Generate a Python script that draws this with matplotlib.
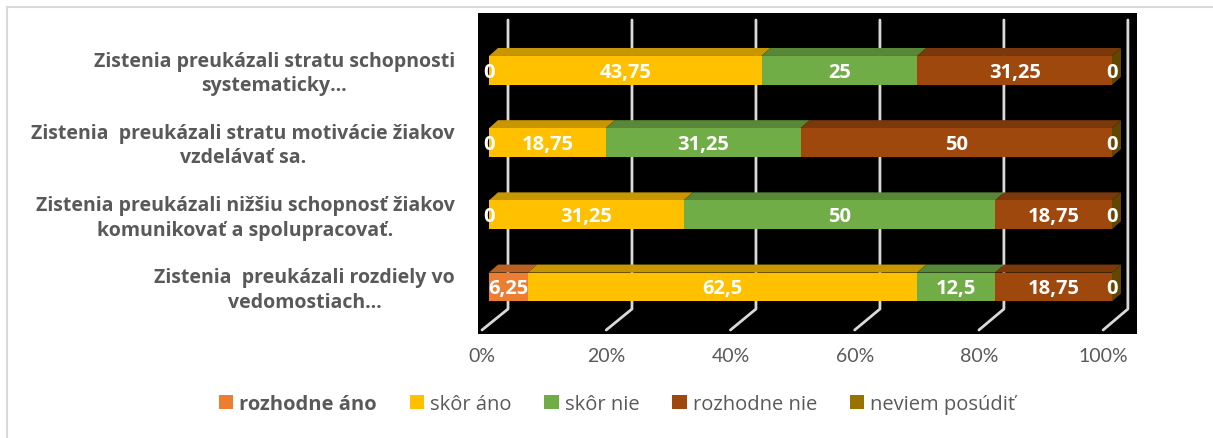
import matplotlib
matplotlib.use("Agg")
import matplotlib.pyplot as plt
import numpy as np
from matplotlib.patches import Polygon, Patch
from matplotlib.lines import Line2D
import matplotlib.colors as mcolors

# ---- data ----
categories = [
    "Zistenia preukázali stratu schopnosti\nsystematicky…",
    "Zistenia  preukázali stratu motivácie žiakov\nvzdelávať sa.",
    "Zistenia preukázali nižšiu schopnosť žiakov\nkomunikovať a spolupracovať.",
    "Zistenia  preukázali rozdiely vo\nvedomostiach…",
]
series_names = ["rozhodne áno", "skôr áno", "skôr nie", "rozhodne nie", "neviem posúdiť"]
rozhodne_ano = [0, 0, 0, 6.25]
skor_ano = [43.75, 18.75, 31.25, 62.5]
skor_nie = [25, 31.25, 50, 12.5]
rozhodne_nie = [31.25, 50, 18.75, 18.75]
neviem = [0, 0, 0, 0]
series_values = [rozhodne_ano, skor_ano, skor_nie, rozhodne_nie, neviem]
tick_values = [0, 20, 40, 60, 80, 100]
tick_labels = ["0%", "20%", "40%", "60%", "80%", "100%"]

colors = ["#ED7D31", "#FFC000", "#70AD47", "#9E480E", "#997300"]

plt.rcParams["font.family"] = ["Open Sans", "DejaVu Sans"]
TICKFONT = ["Lato", "DejaVu Sans"]

W, H = 1213, 439
fig = plt.figure(figsize=(W / 100, H / 100), dpi=100)
fig.patch.set_facecolor("white")

# plot area (black)
px_l, px_r, px_t, px_b = 478, 1137, 14, 335
ax = fig.add_axes([px_l / W, 1 - px_b / H, (px_r - px_l) / W, (px_b - px_t) / H])
ax.set_facecolor("black")
for s in ax.spines.values():
    s.set_visible(False)
ax.set_xticks([])
ax.set_yticks([])

x0px, pxper = 489, 6.23
ax.set_xlim((px_l - x0px) / pxper, (px_r - x0px) / pxper)
ybase, ystep = 288, 72.2
ax.set_ylim((ybase - px_b) / ystep, (ybase - px_t) / ystep)

n = len(categories)
pos = np.arange(n)[::-1].astype(float)  # top category at top
bar_h = 0.40
dx, dy = 9 / pxper, 8 / ystep

# gridlines (3D walls)
back_off = (508 - x0px) / pxper
front_off = (482 - x0px) / pxper
y_top = (ybase - 21) / ystep
y_back = (ybase - 310) / ystep
y_front = (ybase - 331) / ystep
for v in tick_values:
    ax.plot([v * 0.995 + back_off, v * 0.995 + back_off, v * 0.997 + front_off],
            [y_top, y_back, y_front], color="#d9d9d9", lw=2.0,
            solid_capstyle="round", zorder=1)

def darker(c, f):
    r, g, b = mcolors.to_rgb(c)
    return (r * f, g * f, b * f)

left = np.zeros(n)
for si, vals in enumerate(series_values):
    vals = np.array(vals, dtype=float)
    ax.barh(pos, vals, left=left, height=bar_h, color=colors[si], zorder=3, linewidth=0)
    for i in range(n):
        l, w = left[i], vals[i]
        yt = pos[i] + bar_h / 2
        if w > 0:
            ax.add_patch(Polygon([(l, yt), (l + w, yt), (l + w + dx, yt + dy), (l + dx, yt + dy)],
                                 closed=True, facecolor=darker(colors[si], 0.78),
                                 edgecolor="none", zorder=2))
        ax.text(l + w / 2, pos[i] - 0.02, f"{w:g}".replace(".", ","), ha="center", va="center",
                color="white", fontsize=14.5, fontweight="bold", zorder=5)
    left = left + vals

# right side face of the last segment
for i in range(n):
    r = left[i]
    yb, yt = pos[i] - bar_h / 2, pos[i] + bar_h / 2
    ax.add_patch(Polygon([(r, yb), (r, yt), (r + dx, yt + dy), (r + dx, yb + dy)],
                         closed=True, facecolor=darker(colors[-1], 0.62),
                         edgecolor="none", zorder=2))

# category labels
ytr = ax.get_yaxis_transform()
lab_x = (455 - px_l) / (px_r - px_l)
for i, c in enumerate(categories):
    ax.text(lab_x, pos[i] - 0.035, c, transform=ytr, ha="right", va="center",
            multialignment="center", fontsize=14.0, fontweight="bold",
            color="#595959", linespacing=1.3, clip_on=False)

# tick labels
xtr = ax.get_xaxis_transform()
tick_y = (px_b - 357) / (px_b - px_t)
for v, t in zip(tick_values, tick_labels):
    ax.text(v * 0.997 + front_off, tick_y, t, transform=xtr, ha="center", va="center",
            fontsize=14, color="#595959", family=TICKFONT, clip_on=False)

# legend
handles = [Patch(facecolor=c, edgecolor="none") for c in colors]
leg = fig.legend(handles, series_names, loc="center", bbox_to_anchor=(617 / W, 1 - 405 / H),
                 ncol=5, frameon=False, handlelength=0.7, handleheight=0.7,
                 handletextpad=0.3, columnspacing=1.65,
                 prop={"family": ["Open Sans", "DejaVu Sans"], "size": 14.5})
for i, t in enumerate(leg.get_texts()):
    t.set_color("#595959")
    if i == 0:
        t.set_fontweight("bold")

# outer border (left and top)
fig.add_artist(Line2D([7 / W, 7 / W], [0, 1 - 8 / H], color="#d9d9d9", lw=1.5))
fig.add_artist(Line2D([7 / W, 1], [1 - 8 / H, 1 - 8 / H], color="#d9d9d9", lw=1.5))

fig.savefig("out.png", dpi=100, facecolor="white")
